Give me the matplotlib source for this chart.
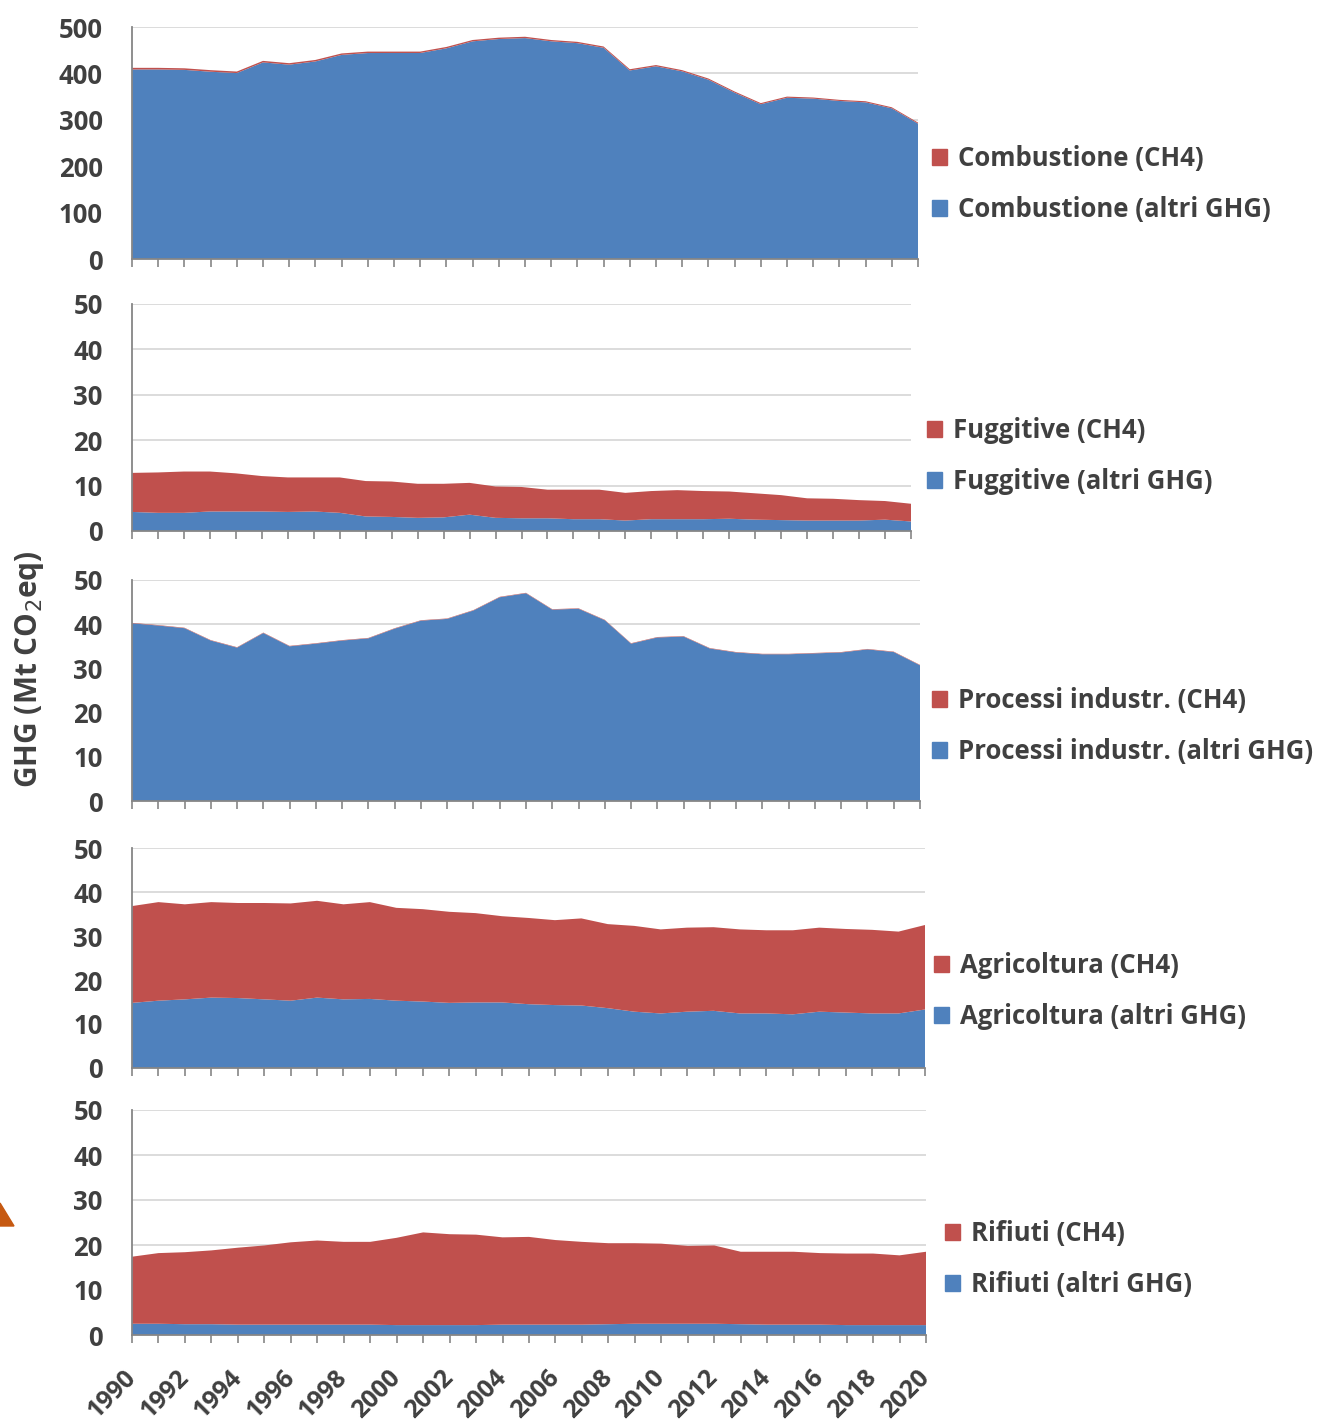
import numpy as np
import matplotlib
matplotlib.use("Agg")
import matplotlib.pyplot as plt
from matplotlib.patches import Patch, Polygon

plt.rcParams['font.family'] = ['Open Sans', 'DejaVu Sans']

years = np.arange(1990, 2021)

# Combustione
comb_tot = [412, 412, 411, 407, 404, 427, 422, 429, 443, 447, 447, 447, 457, 472, 477,
            479, 472, 468, 458, 409, 418, 407, 389, 361, 336, 350, 348, 343, 340, 327, 294]
comb_ch4 = [3.5, 3.5, 3.4, 3.4, 3.3, 3.3, 3.2, 3.2, 3.1, 3.1, 3.0, 3.0, 3.0, 2.9, 2.9,
            2.9, 2.8, 2.8, 2.8, 2.7, 2.7, 2.6, 2.6, 2.5, 2.5, 2.5, 2.4, 2.4, 2.4, 2.3, 2.2]
comb_altri = [t - c for t, c in zip(comb_tot, comb_ch4)]

# Fuggitive
fug_tot = [12.8, 12.9, 13.1, 13.1, 12.7, 12.1, 11.8, 11.8, 11.8, 11.0, 10.9, 10.4, 10.4, 10.6, 9.8,
           9.7, 9.1, 9.1, 9.1, 8.4, 8.8, 9.0, 8.8, 8.7, 8.3, 7.9, 7.2, 7.1, 6.8, 6.6, 6.0]
fug_altri = [4.2, 4.0, 4.0, 4.3, 4.3, 4.3, 4.2, 4.3, 4.0, 3.2, 3.1, 2.9, 3.0, 3.6, 2.9,
             2.8, 2.8, 2.6, 2.6, 2.3, 2.6, 2.6, 2.6, 2.7, 2.5, 2.4, 2.3, 2.3, 2.3, 2.5, 2.1]
fug_ch4 = [t - a for t, a in zip(fug_tot, fug_altri)]

# Processi industriali
proc_altri = [40.2, 39.7, 39.1, 36.3, 34.7, 38.0, 35.0, 35.6, 36.3, 36.8, 39.0, 40.8, 41.2, 43.1, 46.1,
              47.0, 43.3, 43.5, 40.9, 35.6, 37.0, 37.2, 34.5, 33.6, 33.2, 33.2, 33.4, 33.6, 34.3, 33.7, 30.7]
proc_ch4 = [0.1] * 31

# Agricoltura
agr_tot = [36.8, 37.7, 37.2, 37.7, 37.5, 37.5, 37.4, 38.0, 37.2, 37.7, 36.4, 36.1, 35.5, 35.2, 34.5,
           34.1, 33.6, 34.0, 32.7, 32.3, 31.5, 31.9, 32.0, 31.5, 31.3, 31.3, 31.9, 31.6, 31.4, 31.0, 32.5]
agr_altri = [14.8, 15.3, 15.6, 16.0, 15.9, 15.6, 15.3, 16.0, 15.6, 15.7, 15.3, 15.1, 14.8, 14.9, 14.9,
             14.5, 14.3, 14.2, 13.6, 12.8, 12.4, 12.8, 13.0, 12.4, 12.4, 12.2, 12.8, 12.6, 12.4, 12.4, 13.3]
agr_ch4 = [t - a for t, a in zip(agr_tot, agr_altri)]

# Rifiuti
rif_tot = [17.4, 18.2, 18.4, 18.8, 19.4, 19.9, 20.6, 21.0, 20.7, 20.7, 21.6, 22.8, 22.4, 22.3, 21.7,
           21.8, 21.1, 20.7, 20.4, 20.4, 20.3, 19.8, 19.9, 18.5, 18.5, 18.5, 18.2, 18.1, 18.1, 17.7, 18.5]
rif_altri = [2.5, 2.5, 2.4, 2.4, 2.3, 2.3, 2.3, 2.3, 2.3, 2.3, 2.2, 2.2, 2.2, 2.2, 2.3,
             2.3, 2.3, 2.3, 2.4, 2.5, 2.5, 2.5, 2.5, 2.4, 2.3, 2.3, 2.3, 2.2, 2.2, 2.2, 2.2]
rif_ch4 = [t - a for t, a in zip(rif_tot, rif_altri)]

sectors = ["Combustione", "Fuggitive", "Processi industr.", "Agricoltura", "Rifiuti"]
altri = [comb_altri, fug_altri, proc_altri, agr_altri, rif_altri]
ch4 = [comb_ch4, fug_ch4, proc_ch4, agr_ch4, rif_ch4]
ymax = [500, 50, 50, 50, 50]

BLUE = "#4F81BD"
RED = "#C0504D"
TXT = "#404040"
WGT = "bold"

W, H = 1322, 1421
fig = plt.figure(figsize=(W / 100, H / 100), dpi=100)

# panel boxes in pixels: left, right, top, bottom ; legend x, legend centre y
boxes = [(132, 918, 27, 259, 932, 184),
         (132, 911, 304, 531, 927, 456),
         (132, 920, 580, 801, 932, 726),
         (132, 925, 848, 1068, 934, 991),
         (132, 926, 1110, 1335, 945, 1259)]

for i, (name, a, c, ym, b) in enumerate(zip(sectors, altri, ch4, ymax, boxes)):
    l, r, t, btm, lx, ly = b
    ax = fig.add_axes([l / W, 1 - btm / H, (r - l) / W, (btm - t) / H])
    ax.stackplot(years, a, c, colors=[BLUE, RED], linewidth=0)
    ax.set_xlim(1990, 2020)
    ax.set_ylim(0, ym)
    ax.set_yticks(np.linspace(0, ym, 6))
    ax.yaxis.grid(True, color="#D9D9D9", linewidth=1.3)
    ax.set_axisbelow(True)
    for s in ["top", "right"]:
        ax.spines[s].set_visible(False)
    for s in ["left", "bottom"]:
        ax.spines[s].set_color("#868686")
        ax.spines[s].set_linewidth(1.3)
        ax.spines[s].set_zorder(5)
    ax.set_xticks(years)
    ax.tick_params(axis="x", direction="out", length=6, width=1.2, color="#868686")
    ax.tick_params(axis="y", length=0, pad=21, labelsize=18.5, labelcolor=TXT)
    for lab in ax.get_yticklabels():
        lab.set_fontweight(WGT)
    if i == 4:
        ax.set_xticklabels([str(y) if y % 2 == 0 else "" for y in years],
                           rotation=45, ha="right", va="center", rotation_mode="anchor",
                           fontsize=18, fontweight=WGT, color=TXT)
        ax.tick_params(axis="x", pad=22)
    else:
        ax.set_xticklabels([])

    handles = [Patch(color=RED, label=name + " (CH4)"),
               Patch(color=BLUE, label=name + " (altri GHG)")]
    ax.legend(handles=handles, loc="center left", bbox_to_anchor=(lx / W, 1 - ly / H),
              bbox_transform=fig.transFigure, frameon=False, borderpad=0, borderaxespad=0,
              handlelength=0.6, handleheight=0.6, handletextpad=0.4, labelspacing=0.95,
              prop={"size": 18.5, "weight": WGT}, labelcolor=TXT)

fig.text(30 / W, 1 - 669 / H, "GHG (Mt CO$_2$eq)", rotation=90, ha="center", va="center",
         fontsize=21.5, fontweight=WGT, color=TXT)

# cropped orange arrow tip at the left edge
tri = Polygon([[0, 1 - 1203 / H], [14 / W, 1 - 1226 / H], [0, 1 - 1226 / H]],
              closed=True, transform=fig.transFigure, color="#C65911")
fig.patches.append(tri)

fig.savefig("out.png", dpi=100)
